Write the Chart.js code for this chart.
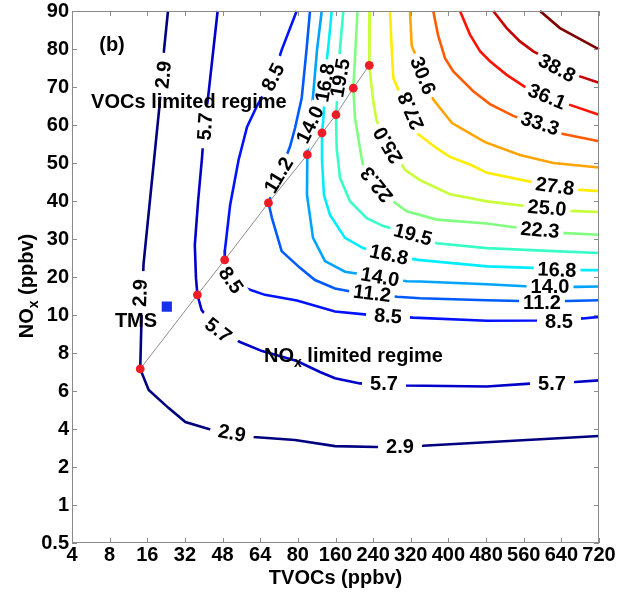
<!DOCTYPE html>
<html>
<head>
<meta charset="utf-8">
<title>O3 isopleths - TVOCs vs NOx</title>
<script src="https://cdn.jsdelivr.net/npm/chart.js@4.4.1/dist/chart.umd.min.js"></script>
<style>
  html, body { margin: 0; padding: 0; background: #ffffff; }
  #wrap { width: 622px; height: 594px; }
</style>
</head>
<body>
<div id="wrap"><canvas id="chart" width="622" height="594"></canvas></div>
<script>
// Axis break values (both axes are drawn with evenly spaced breaks)
const X_TICKS = [4, 8, 16, 32, 48, 64, 80, 160, 240, 320, 400, 480, 560, 640, 720];
const Y_TICKS = [0.5, 1, 2, 4, 6, 8, 10, 20, 30, 40, 50, 60, 70, 80, 90];

// O3 isopleth levels (ppbv)
const LEVELS = [2.9, 5.7, 8.5, 11.2, 14.0, 16.8, 19.5, 22.3, 25.0, 27.8, 30.6, 33.3, 36.1, 38.8, 41.6];

// Isopleth paths as [TVOCs, NOx] pairs (ppbv)
const ISO_2_9 = [[24.8,90],[23.2,80.3],[21.1,64.5],[15.2,23.4],[14.8,10.5],[14.5,7.16],[16.6,6.05],[25.1,5.1],[32.2,4.37],[42.1,4.0],[61.1,3.58],[78.8,3.42],[158.9,3.1],[247.6,3.05],[346,3.12],[720,3.63]];
const ISO_5_7 = [[45.9,90],[42.1,68.7],[40.1,58.7],[39.3,51.6],[37.6,40],[36.2,28.4],[36.7,19.7],[37.3,15.3],[39.1,11.3],[46.1,9.2],[55.4,8.58],[64.8,8.1],[79.6,7.58],[127,7.0],[158.9,6.67],[212,6.4],[307.7,6.29],[481.3,6.24],[573.4,6.39],[669,6.47],[720,6.56]];
const ISO_8_5 = [[79.5,90],[73.1,79.7],[69.4,72.6],[62.6,65],[58.4,59.5],[54.8,50.8],[51.2,38.9],[49.0,27.1],[48.9,24.5],[51.6,18.9],[57.5,17.1],[66.0,15.3],[79.6,13.8],[158.9,10.9],[226.9,10.1],[324.7,9.86],[482,9.7],[588,9.71],[686,9.82],[720,9.9]];
const ISO_11_2 = [[105.8,90],[98.8,80.3],[88.2,67.1],[78.8,59.2],[76.7,54.4],[67.5,39.5],[69.0,35.5],[73.1,26.8],[84.5,22.4],[116.4,19.2],[158.9,17.0],[195,16.1],[290.7,14.8],[339.6,14.4],[481.3,13.9],[552,13.7],[652,13.7],[720,13.9]];
const ISO_14_0 = [[130.7,90],[120.7,79.7],[112.8,68.4],[100.1,52.2],[99.4,41.6],[112.2,30.3],[137.7,24.2],[180.2,21.4],[254.6,20],[311.9,18.9],[339.6,18.8],[481.3,18.1],[573.4,17.5],[673.2,17.4],[720,17.5]];
const ISO_16_8 = [[151.9,90],[146.2,82.4],[141.3,76.8],[134.1,61.4],[131.3,57.9],[131.3,50.8],[135.5,41.6],[148.3,36.3],[180.2,30.3],[218.4,27.6],[273.7,25.9],[335.3,24.5],[482,22.8],[579.7,22.4],[686,21.8],[720,21.8]];
const ISO_19_5 = [[176.6,90],[169.6,80.3],[162.5,64.9],[161,62.7],[162.5,53.9],[169.6,46.1],[190.8,39.9],[226.3,35.5],[261.6,33.4],[324.7,31.2],[375,28.9],[481.3,27.6],[622.9,26.8],[720,26.3]];
const ISO_22_3 = [[206.7,90],[201.4,77.6],[197.8,69.7],[201.4,61.8],[212,53.9],[217.8,49.7],[286.4,39.5],[311.3,37.3],[375,35.1],[481.3,34.1],[552,32.9],[637,31.6],[720,31.1]];
const ISO_25_0 = [[233.3,90],[231.8,75.7],[240.3,66.2],[247.5,61],[307.7,48.2],[339.6,45.5],[403.3,41.8],[482,39.9],[567,38.6],[658.3,37.4],[720,37.1]];
const ISO_27_8 = [[275.8,90],[279.4,80.3],[282.8,72.4],[332.5,57.9],[375,53.9],[403.3,51.6],[445.8,49.6],[482,47.4],[573.4,45.1],[673.2,43.0],[720,42.6]];
const ISO_30_6 = [[318.3,90],[321.9,80.9],[367.8,66.7],[407.6,60.5],[477.7,55.5],[552,52.1],[622.9,50],[720,48.8]];
const ISO_33_3 = [[367.8,90],[377.8,83.7],[392.7,77.6],[410.3,74.1],[452.8,68.9],[488.3,65.5],[537.8,62.4],[644.1,57.6],[720,55.7]];
const ISO_36_1 = [[424.6,90],[445.8,83.8],[467.1,79.4],[488.3,76.8],[523.8,73.2],[566.3,69.7],[658.3,65.3],[720,62.7]];
const ISO_38_8 = [[495.3,90],[523.8,85.5],[552,82.0],[580.4,79.4],[679.6,72.8],[720,71.1]];
const ISO_41_6 = [[594.6,90],[637,85.5],[720,79.9]];

const ISOPLETHS = [ISO_2_9, ISO_5_7, ISO_8_5, ISO_11_2, ISO_14_0, ISO_16_8, ISO_19_5,
                   ISO_22_3, ISO_25_0, ISO_27_8, ISO_30_6, ISO_33_3, ISO_36_1, ISO_38_8, ISO_41_6];

// Ridge line: points where each isopleth turns (VOC-limited / NOx-limited transition)
const RIDGE_TVOC = [14.5, 37.3, 48.9, 67.5, 100.1, 131.3, 161, 197.8, 231.8];
const RIDGE_NOX  = [7.16, 15.3, 24.5, 39.5, 52.2, 57.9, 62.7, 69.7, 75.7];

// Observed mean condition at the TMS site
const TMS_TVOC = [24.3];
const TMS_NOX  = [12.2];

// Inline label placement: [level, TVOCs, NOx, rotation in degrees]
const LABEL_SPOTS = [
  [2.9, 22.8, 73.2, -84], [2.9, 14.45, 15.8, -88], [2.9, 52.0, 3.79, 10], [2.9, 297, 3.1, 0],
  [5.7, 40.5, 59.6, -86], [5.7, 46.2, 9.2, 38], [5.7, 263, 6.37, 0], [5.7, 620, 6.39, 0],
  [8.5, 69.4, 72.6, -63], [8.5, 51.6, 19.2, 55], [8.5, 271.6, 9.95, 4], [8.5, 635, 9.66, 0],
  [11.2, 71.8, 46.8, -59], [11.2, 237.6, 15.7, 7], [11.2, 598.9, 13.3, 0],
  [14.0, 105.8, 60.1, -64], [14.0, 254.6, 20, 10], [14.0, 615.8, 17.4, 0],
  [16.8, 137.7, 71.1, -80], [16.8, 273.7, 25.9, 12], [16.8, 630.7, 21.9, 2],
  [19.5, 169.6, 72.4, -80], [19.5, 324.7, 31.2, 15],
  [22.3, 247.5, 44.3, -129], [22.3, 594.6, 32.4, 5],
  [25.0, 271.6, 54.7, -120], [25.0, 609.5, 38.2, 5],
  [27.8, 320.4, 63.7, -113], [27.8, 626.4, 43.9, 8],
  [30.6, 346, 73, 68],
  [33.3, 594.6, 60.4, 18], [36.1, 609.5, 67.5, 22], [38.8, 630.7, 75.0, 28]
];

// Free text notes: [text, TVOCs, NOx, align]
const NOTES = [
  ['(b)', 8.5, 80.8, 'center'],
  ['VOCs limited regime', 33.7, 65.8, 'center'],
  ['TMS', 13.6, 9.68, 'center']
];
const NOX_NOTE_POS = [65.6, 7.89];

const FONT = "'Liberation Sans', Arial, Helvetica, sans-serif";
const LABEL_FONT = 'bold 20px ' + FONT;

// Jet colour map
function jet(t) {
  const c = v => Math.round(255 * Math.max(0, Math.min(1, v)));
  return 'rgb(' + c(1.5 - Math.abs(4 * t - 3)) + ',' + c(1.5 - Math.abs(4 * t - 2)) + ',' + c(1.5 - Math.abs(4 * t - 1)) + ')';
}

// Piecewise-linear mapping between a value and its position among the breaks
function breakIndex(v, b) {
  const n = b.length;
  if (v <= b[0]) return (v - b[0]) / (b[1] - b[0]);
  for (let i = 0; i < n - 1; i++) {
    if (v <= b[i + 1]) return i + (v - b[i]) / (b[i + 1] - b[i]);
  }
  return n - 1 + (v - b[n - 1]) / (b[n - 1] - b[n - 2]);
}
function breakValue(idx, b) {
  const n = b.length;
  const i = Math.max(0, Math.min(n - 2, Math.floor(idx)));
  return b[i] + (idx - i) * (b[i + 1] - b[i]);
}
const BREAKS = { x: X_TICKS, y: Y_TICKS };

// Scale with equally spaced, irregular breaks
class BrokenScale extends Chart.LinearScale {
  static id = 'broken';
  static defaults = {};
  determineDataLimits() {
    this.min = 0;
    this.max = BREAKS[this.id].length - 1;
  }
  buildTicks() {
    return BREAKS[this.id].map(v => ({ value: v }));
  }
  getPixelForValue(v) {
    if (v === null || v === undefined || isNaN(v)) return NaN;
    return super.getPixelForValue(breakIndex(v, BREAKS[this.id]));
  }
  getValueForPixel(p) {
    return breakValue(super.getValueForPixel(p), BREAKS[this.id]);
  }
}
Chart.register(BrokenScale);

function spotsFor(chart, level) {
  const ctx = chart.ctx;
  const xs = chart.scales.x, ys = chart.scales.y;
  ctx.save();
  ctx.font = LABEL_FONT;
  const out = LABEL_SPOTS.filter(s => s[0] === level).map(s => {
    const text = s[0].toFixed(1);
    return {
      text,
      w: ctx.measureText(text).width,
      px: xs.getPixelForValue(s[1]),
      py: ys.getPixelForValue(s[2]),
      a: s[3] * Math.PI / 180
    };
  });
  ctx.restore();
  return out;
}

// Breaks each isopleth where its labels sit and writes the labels in the gaps
const inlineLabels = {
  id: 'inlineLabels',
  beforeDatasetDraw(chart, args) {
    const ds = chart.data.datasets[args.index];
    if (ds.isoLevel === undefined) return;
    const ctx = chart.ctx;
    const spots = spotsFor(chart, ds.isoLevel);
    ctx.save();
    ctx.beginPath();
    ctx.rect(0, 0, chart.width, chart.height);
    spots.forEach(b => {
      const gw = Math.max(b.w + 8, 44) / 2, gh = 9;
      const c = Math.cos(b.a), s = Math.sin(b.a);
      const pts = [[-gw, -gh], [gw, -gh], [gw, gh], [-gw, gh]].map(([u, v]) => [b.px + u * c - v * s, b.py + u * s + v * c]);
      ctx.moveTo(pts[0][0], pts[0][1]);
      for (let k = 1; k < 4; k++) ctx.lineTo(pts[k][0], pts[k][1]);
      ctx.closePath();
    });
    ctx.clip('evenodd');
  },
  afterDatasetDraw(chart, args) {
    const ds = chart.data.datasets[args.index];
    if (ds.isoLevel === undefined) return;
    const ctx = chart.ctx;
    ctx.restore();
    const spots = spotsFor(chart, ds.isoLevel);
    ctx.save();
    ctx.font = LABEL_FONT;
    ctx.fillStyle = '#000000';
    ctx.textAlign = 'center';
    ctx.textBaseline = 'middle';
    spots.forEach(b => {
      ctx.save();
      ctx.translate(b.px, b.py);
      ctx.rotate(b.a);
      ctx.fillText(b.text, 0, 1);
      ctx.restore();
    });
    ctx.restore();
  }
};

// Draws a run of text pieces, some of them as subscripts
function drawRuns(ctx, runs, x, y, align) {
  const big = 'bold 20px ' + FONT, small = 'bold 14px ' + FONT;
  let total = 0;
  runs.forEach(r => { ctx.font = r.sub ? small : big; total += ctx.measureText(r.t).width; });
  let cx = align === 'center' ? x - total / 2 : x;
  ctx.textAlign = 'left';
  ctx.textBaseline = 'alphabetic';
  runs.forEach(r => {
    ctx.font = r.sub ? small : big;
    ctx.fillText(r.t, cx, y + (r.sub ? 5 : 0));
    cx += ctx.measureText(r.t).width;
  });
}

// Box frame with inward ticks, axis title with subscript and text notes
const frameAndNotes = {
  id: 'frameAndNotes',
  afterDraw(chart) {
    const ctx = chart.ctx;
    const a = chart.chartArea;
    const xs = chart.scales.x, ys = chart.scales.y;
    ctx.save();
    ctx.strokeStyle = '#8a8a8a';
    ctx.lineWidth = 1;
    ctx.strokeRect(a.left + 0.5, a.top + 0.5, a.right - a.left - 1, a.bottom - a.top - 1);
    ctx.beginPath();
    X_TICKS.forEach(v => {
      const px = Math.round(xs.getPixelForValue(v)) + 0.5;
      ctx.moveTo(px, a.bottom); ctx.lineTo(px, a.bottom - 5);
      ctx.moveTo(px, a.top); ctx.lineTo(px, a.top + 5);
    });
    Y_TICKS.forEach(v => {
      const py = Math.round(ys.getPixelForValue(v)) + 0.5;
      ctx.moveTo(a.left, py); ctx.lineTo(a.left + 5, py);
      ctx.moveTo(a.right, py); ctx.lineTo(a.right - 5, py);
    });
    ctx.stroke();

    ctx.fillStyle = '#000000';
    // y axis title
    ctx.save();
    ctx.translate(a.left - 39, (a.top + a.bottom) / 2 + 9);
    ctx.rotate(-Math.PI / 2);
    drawRuns(ctx, [{ t: 'NO' }, { t: 'x', sub: true }, { t: ' (ppbv)' }], 0, 0, 'center');
    ctx.restore();

    // notes
    ctx.font = 'bold 20px ' + FONT;
    ctx.textBaseline = 'middle';
    NOTES.forEach(n => {
      ctx.textAlign = n[3];
      ctx.fillText(n[0], xs.getPixelForValue(n[1]), ys.getPixelForValue(n[2]));
    });
    drawRuns(ctx, [{ t: 'NO' }, { t: 'x', sub: true }, { t: ' limited regime' }],
      xs.getPixelForValue(NOX_NOTE_POS[0]), ys.getPixelForValue(NOX_NOTE_POS[1]) + 7, 'left');
    ctx.restore();
  }
};

const isoDatasets = ISOPLETHS.map((path, i) => ({
  type: 'scatter',
  label: LEVELS[i].toFixed(1),
  isoLevel: LEVELS[i],
  data: path.map(p => ({ x: p[0], y: p[1] })),
  showLine: true,
  borderColor: jet(i / (LEVELS.length - 1)),
  borderWidth: 2.6,
  pointRadius: 0,
  tension: 0,
  fill: false,
  order: 1
}));

const ridgeDataset = {
  type: 'scatter',
  label: 'ridge',
  data: RIDGE_TVOC.map((v, i) => ({ x: v, y: RIDGE_NOX[i] })),
  showLine: true,
  borderColor: '#8c8c8c',
  borderWidth: 1,
  pointRadius: 4.4,
  pointBackgroundColor: '#ee1c25',
  pointBorderWidth: 0,
  order: -1
};

const tmsDataset = {
  type: 'scatter',
  label: 'TMS',
  data: TMS_TVOC.map((v, i) => ({ x: v, y: TMS_NOX[i] })),
  pointStyle: 'rect',
  pointRadius: 7.2,
  pointBackgroundColor: '#1432ee',
  pointBorderWidth: 0,
  order: -2
};

Chart.defaults.font.family = FONT;

const tickFont = { size: 20, weight: 'bold', lineHeight: 1.2 };

new Chart(document.getElementById('chart'), {
  type: 'scatter',
  data: { datasets: [tmsDataset, ridgeDataset, ...isoDatasets] },
  options: {
    responsive: false,
    animation: false,
    devicePixelRatio: 1,
    layout: { padding: { left: 0, right: 23, top: 11, bottom: 0 } },
    plugins: { legend: { display: false }, tooltip: { enabled: false } },
    scales: {
      x: {
        type: 'broken',
        position: 'bottom',
        afterFit: s => { s.height = 51; s.paddingLeft = 0; s.paddingRight = 0; },
        grid: { display: false, drawTicks: false },
        border: { display: false },
        ticks: { autoSkip: false, maxRotation: 0, minRotation: 0, padding: 0, color: '#000', font: tickFont, callback: v => String(v) },
        title: { display: true, text: 'TVOCs (ppbv)', color: '#000', font: { size: 20, weight: 'bold', lineHeight: 1.2 }, padding: { top: 0, bottom: 4 } }
      },
      y: {
        type: 'broken',
        position: 'left',
        afterFit: s => { s.width = 72; s.paddingTop = 0; s.paddingBottom = 0; },
        grid: { display: false, drawTicks: false },
        border: { display: false },
        ticks: { autoSkip: false, padding: 3, color: '#000', font: tickFont, callback: v => String(v) }
      }
    }
  },
  plugins: [inlineLabels, frameAndNotes]
});
</script>
</body>
</html>
